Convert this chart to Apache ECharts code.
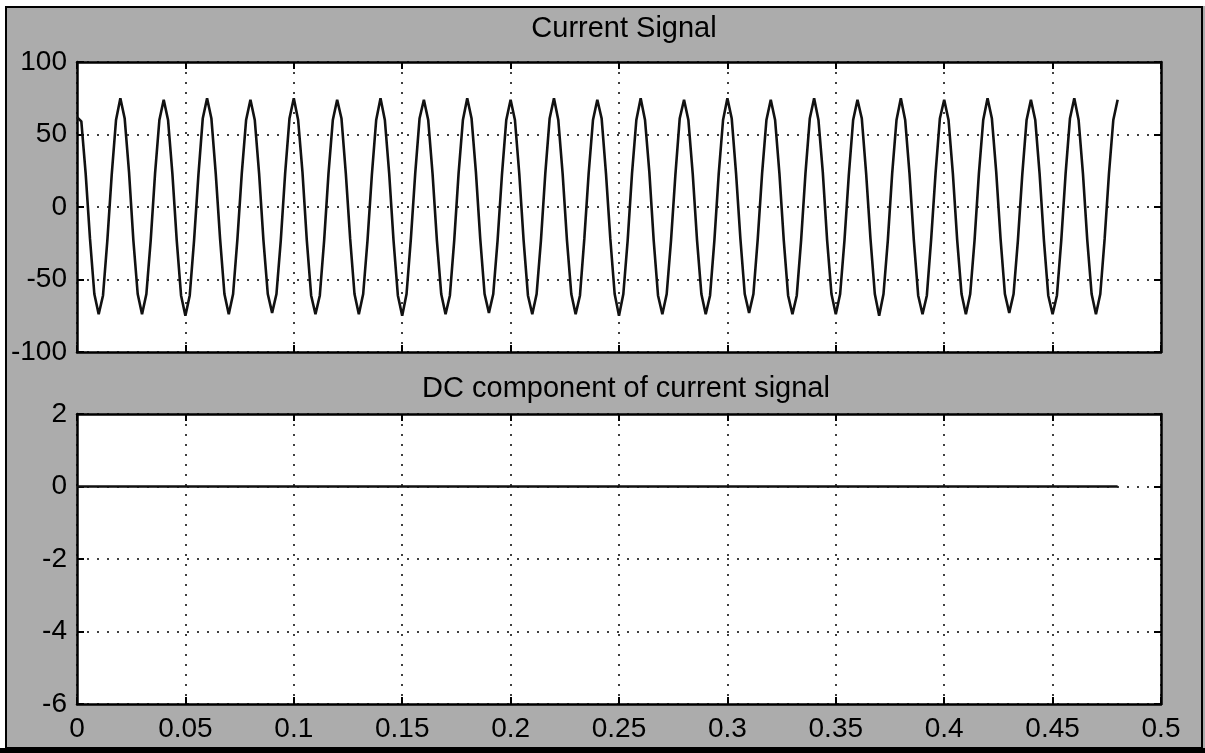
<!DOCTYPE html>
<html>
<head>
<meta charset="utf-8">
<script src="https://cdn.jsdelivr.net/npm/echarts@6/dist/echarts.min.js"></script>
<style>
html,body{margin:0;padding:0;background:#fff;}
#chart{width:1205px;height:753px;}
</style>
</head>
<body>
<div id="chart"></div>
<script>
// ---- data ----
const xTickLabels = ['0','0.05','0.1','0.15','0.2','0.25','0.3','0.35','0.4','0.45','0.5'];
const topYTickLabels = ['-100','-50','0','50','100'];
const botYTickLabels = ['-6','-4','-2','0','2'];
const topTitle = 'Current Signal';
const botTitle = 'DC component of current signal';

const currentSampleTime = 0.002; // s between samples
const currentValues = [
  62, 59, 23, -22, -60, -74, -61, -23, 22, 60,
  75, 61, 24, -23, -60, -74, -60, -23, 23, 60,
  74, 60, 23, -23, -61, -75, -61, -23, 22, 61,
  75, 61, 23, -22, -60, -74, -60, -22, 23, 60,
  74, 60, 23, -23, -60, -73, -60, -23, 23, 61,
  75, 60, 24, -23, -61, -74, -61, -23, 23, 60,
  74, 61, 23, -22, -60, -74, -60, -23, 22, 60,
  75, 60, 23, -23, -61, -75, -60, -22, 23, 61,
  74, 60, 23, -23, -60, -74, -61, -23, 23, 60,
  75, 61, 24, -22, -60, -73, -60, -23, 22, 60,
  74, 60, 23, -23, -61, -74, -60, -23, 23, 61,
  75, 60, 23, -23, -60, -74, -61, -22, 23, 60,
  74, 61, 23, -22, -60, -75, -60, -23, 23, 60,
  75, 60, 24, -23, -61, -74, -60, -23, 22, 61,
  74, 60, 23, -23, -60, -74, -61, -23, 23, 60,
  75, 61, 23, -22, -60, -73, -60, -22, 23, 60,
  74, 60, 23, -23, -61, -74, -61, -23, 23, 61,
  75, 60, 24, -23, -60, -74, -60, -23, 22, 60,
  74, 61, 23, -22, -60, -75, -60, -23, 23, 60,
  75, 60, 23, -23, -61, -74, -61, -22, 23, 61,
  74, 60, 23, -23, -60, -74, -60, -23, 23, 60,
  75, 61, 24, -22, -60, -73, -60, -23, 22, 60,
  74, 60, 23, -23, -61, -74, -61, -23, 23, 61,
  75, 60, 23, -23, -60, -74, -60, -22, 23, 60,
  74
];
const dcSampleTime = 0.02;
const dcValues = [0,0,0,0,0,0,0,0,0,0,0,0,0,0,0,0,0,0,0,0,0,0,0,0,0];

// ---- build ----
const currentData = currentValues.map((v, i) => [i * currentSampleTime, v]);
const dcData = dcValues.map((v, i) => [i * dcSampleTime, v]);

const FONT = 'Liberation Sans, Arial, sans-serif';
const gridLine = { show: true, lineStyle: { color: '#000', type: [2, 8], width: 1.5 } };
const axisLine = { show: true, onZero: false, lineStyle: { color: '#000', width: 2.5 } };
const tick = { show: true, inside: true, length: 7, lineStyle: { color: '#000', width: 2 } };
const xLabelFmt = v => { const i = Math.round(v / 0.05); return xTickLabels[i] !== undefined ? xTickLabels[i] : ''; };
function yFmt(labels, min, step) { return v => { const i = Math.round((v - min) / step); return labels[i] !== undefined ? labels[i] : ''; }; }

function xAxisPair(gridIndex, showLabels) {
  return [
    { type: 'value', gridIndex, min: 0, max: 0.5, interval: 0.05, position: 'bottom',
      axisLine, axisTick: tick, splitLine: gridLine,
      axisLabel: { show: showLabels, color: '#000', fontFamily: FONT, fontSize: 28, margin: 11, formatter: xLabelFmt } },
    { type: 'value', gridIndex, min: 0, max: 0.5, interval: 0.05, position: 'top',
      axisLine, axisTick: tick, splitLine: { show: false }, axisLabel: { show: false } }
  ];
}
function yAxisPair(gridIndex, min, max, interval, labels) {
  return [
    { type: 'value', gridIndex, min, max, interval, position: 'left',
      axisLine, axisTick: tick, splitLine: gridLine,
      axisLabel: { color: '#000', fontFamily: FONT, fontSize: 28, margin: 10, formatter: yFmt(labels, min, interval) } },
    { type: 'value', gridIndex, min, max, interval, position: 'right',
      axisLine, axisTick: tick, splitLine: { show: false }, axisLabel: { show: false } }
  ];
}

const chart = echarts.init(document.getElementById('chart'), null, { renderer: 'canvas' });
chart.setOption({
  animation: false,
  backgroundColor: '#acacac',
  title: [
    { text: topTitle, left: 619, top: 9, textAlign: 'center',
      textStyle: { color: '#000', fontFamily: FONT, fontSize: 29, fontWeight: 'normal' } },
    { text: botTitle, left: 621, top: 369, textAlign: 'center',
      textStyle: { color: '#000', fontFamily: FONT, fontSize: 29, fontWeight: 'normal' } }
  ],
  grid: [
    { left: 77, top: 62, width: 1084, height: 290, show: true, backgroundColor: '#fff', borderWidth: 0 },
    { left: 77, top: 414, width: 1084, height: 290, show: true, backgroundColor: '#fff', borderWidth: 0 }
  ],
  xAxis: [...xAxisPair(0, false), ...xAxisPair(1, true)],
  yAxis: [...yAxisPair(0, -100, 100, 50, topYTickLabels), ...yAxisPair(1, -6, 2, 2, botYTickLabels)],
  series: [
    { type: 'line', name: topTitle, xAxisIndex: 0, yAxisIndex: 0, data: currentData,
      showSymbol: false, lineStyle: { color: '#111', width: 2.6 }, z: 5 },
    { type: 'line', name: botTitle, xAxisIndex: 2, yAxisIndex: 2, data: dcData,
      showSymbol: false, lineStyle: { color: '#111', width: 2.4 }, z: 5 }
  ],
  graphic: [
    { type: 'rect', z: 100, shape: { x: 0, y: 0, width: 1205, height: 6 }, style: { fill: '#fff' } },
    { type: 'rect', z: 100, shape: { x: 0, y: 0, width: 5, height: 753 }, style: { fill: '#fff' } },
    { type: 'rect', z: 101, shape: { x: 6, y: 7, width: 1196, height: 741 }, style: { fill: null, stroke: '#000', lineWidth: 2 } },
    { type: 'rect', z: 101, shape: { x: 0, y: 748, width: 1205, height: 5 }, style: { fill: '#000' } }
  ]
});
</script>
</body>
</html>
